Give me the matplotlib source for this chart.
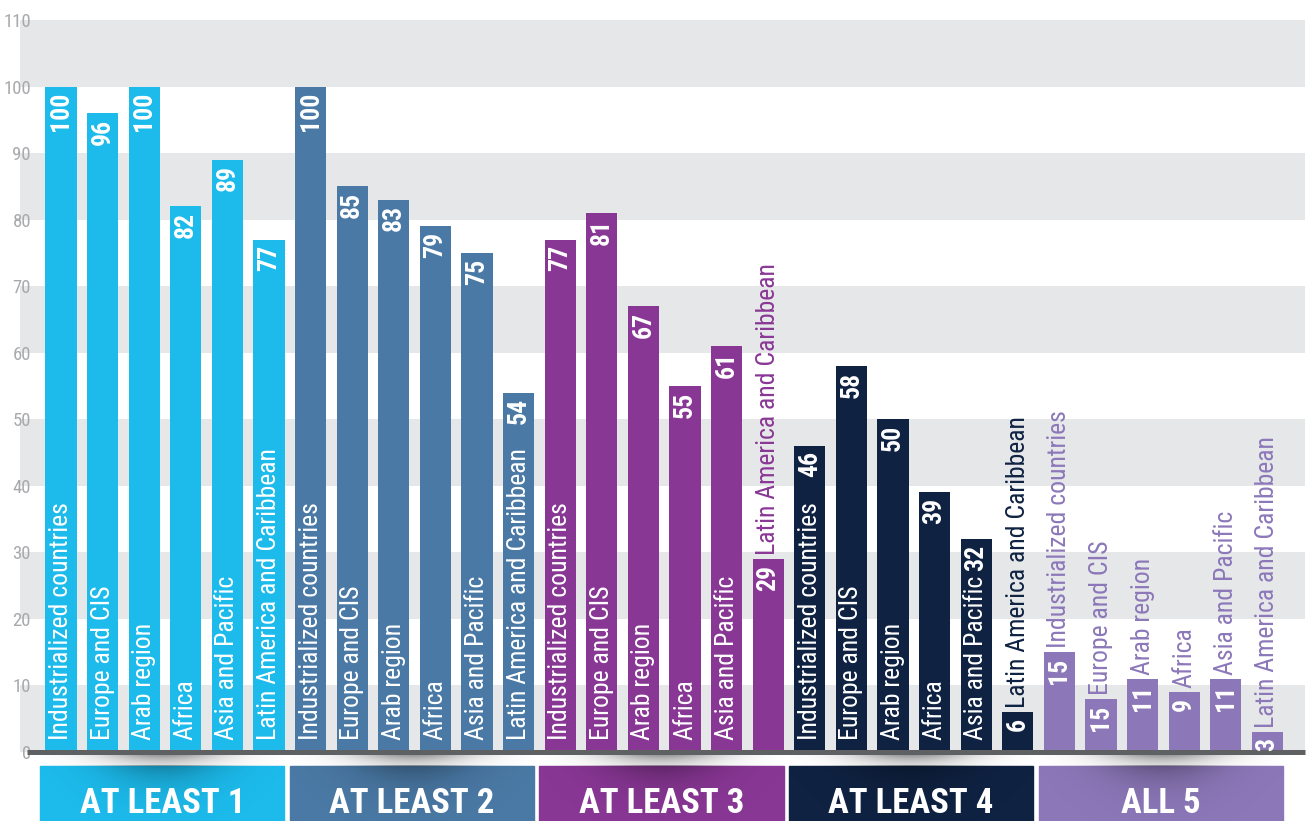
import numpy as np
import matplotlib
matplotlib.use("Agg")
import matplotlib.pyplot as plt
from matplotlib import font_manager
from matplotlib.patches import Rectangle

# Data
regions = ["Industrialized countries", "Europe and CIS", "Arab region",
           "Africa", "Asia and Pacific", "Latin America and Caribbean"]
groups = ["AT LEAST 1", "AT LEAST 2", "AT LEAST 3", "AT LEAST 4", "ALL 5"]

at_least_1 = [100, 96, 100, 82, 89, 77]
at_least_2 = [100, 85, 83, 79, 75, 54]
at_least_3 = [77, 81, 67, 55, 61, 29]
at_least_4 = [46, 58, 50, 39, 32, 6]
all_5 = [15, 8, 11, 9, 11, 3]
all_5_printed = [15, 15, 11, 9, 11, 3]  # label on the 2nd bar says 15 although the bar is shorter

group_colors = ["#1CBBEC", "#4A79A5", "#893795", "#0F2242", "#8C78B9"]
yticks = list(range(0, 111, 10))

# pick a narrow font if one is installed
names = {f.name for f in font_manager.fontManager.ttflist}
narrow = "DejaVu Sans"
for cand in ["Roboto Condensed", "Liberation Sans Narrow", "Open Sans Condensed", "DejaVu Sans"]:
    if cand in names:
        narrow = cand
        break
plt.rcParams["font.family"] = [narrow, "DejaVu Sans"]
plt.rcParams["font.stretch"] = "condensed"

values = at_least_1 + at_least_2 + at_least_3 + at_least_4 + all_5
printed = at_least_1 + at_least_2 + at_least_3 + at_least_4 + all_5_printed
labels = regions * len(groups)
colors = [c for c in group_colors for _ in regions]
x = np.arange(len(values))

fig = plt.figure(figsize=(13.12, 8.21), dpi=100)
ax = fig.add_axes([20 / 1312, 69 / 821, 1285 / 1312, 732 / 821])
ax.set_xlim(-0.986, 29.904)
ax.set_ylim(0, 110)

# alternating background bands
for k in range(0, 110, 20):
    ax.axhspan(k, k + 10, color="#E6E7E8", zorder=0, lw=0)

ax.bar(x, values, width=0.75, color=colors, zorder=2)

# baseline
ax.plot([-0.82, 29.904], [0, 0], color="#5F6062", lw=3.6, zorder=4,
        clip_on=False, solid_capstyle="butt")

for xi, v, s, name, c in zip(x, values, printed, labels, colors):
    ax.annotate(str(s), (xi, v), xytext=(0, -4), textcoords="offset points",
                rotation=90, ha="center", va="top", color="white",
                fontsize=18.5, fontweight="bold", zorder=5)
    if v >= 30:
        ax.annotate(name, (xi, 0), xytext=(0, 8.5), textcoords="offset points",
                    rotation=90, ha="center", va="bottom", color="white",
                    fontsize=18.5, zorder=5)
    else:
        ax.annotate(name, (xi, v), xytext=(0, 3), textcoords="offset points",
                    rotation=90, ha="center", va="bottom", color=c,
                    fontsize=18.5, zorder=5)

# group boxes with soft shadow under the baseline
gx = np.linspace(-1, 1, 200)
for g, (gname, c) in enumerate(zip(groups, group_colors)):
    left = 6 * g - 0.5
    right = 6 * g + 5.37
    ax.add_patch(Rectangle((left, -10.4), right - left, 8.3, color=c,
                           clip_on=False, zorder=3))
    # shadow blob between baseline and box
    gy = np.linspace(0, 1, 30)[:, None]
    alpha = 0.6 * np.exp(-(gx[None, :] / 0.5) ** 2) * np.exp(-gy * 1.2)
    rgba = np.zeros((30, 200, 4))
    rgba[..., :3] = 0.25
    rgba[..., 3] = alpha
    ax.imshow(rgba, extent=(left, right, -2.1, -0.3), aspect="auto",
              zorder=1, clip_on=False, interpolation="bilinear")
    # darker top-center on the box
    by = np.linspace(0, 1, 40)[:, None]
    a2 = 0.3 * np.exp(-(gx[None, :] / 0.5) ** 2) * np.exp(-by * 3)
    rgba2 = np.zeros((40, 200, 4))
    rgba2[..., 3] = a2
    ax.imshow(rgba2, extent=(left, right, -10.4, -2.1), aspect="auto",
              zorder=3.5, clip_on=False, interpolation="bilinear")
    ax.text((left + right) / 2, -9.2, gname, ha="center", va="baseline",
            color="white", fontsize=25, fontweight="bold", zorder=5,
            clip_on=False)

ax.set_xlim(-0.986, 29.904)
ax.set_ylim(0, 110)
ax.set_yticks(yticks)
ax.set_yticklabels([str(t) for t in yticks], color="#A7A9AC", fontsize=13.5)
ax.tick_params(axis="y", length=0, pad=-8)
ax.set_xticks([])
for sp in ax.spines.values():
    sp.set_visible(False)

fig.savefig("out.png", dpi=100)
